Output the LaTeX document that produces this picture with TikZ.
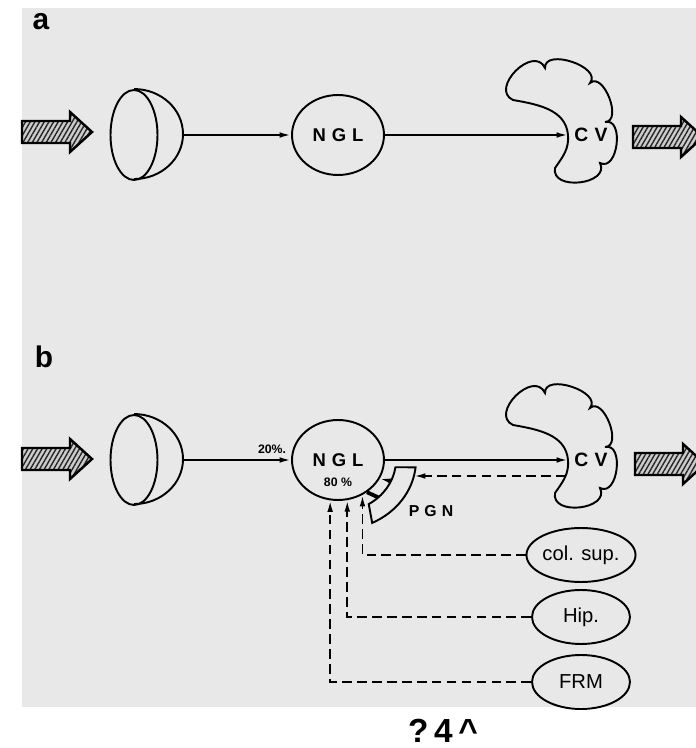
\documentclass[tikz,border=0pt]{standalone}
\usepackage{fontspec}
\setmainfont{Liberation Sans}
\newfontfamily\spaced[LetterSpace=32]{Liberation Sans}
\usetikzlibrary{shapes.geometric, arrows.meta, positioning, patterns.meta}

\begin{document}
\begin{tikzpicture}[
    x=0.02cm, y=0.02cm,
    line width=1.1pt,
    oval/.style={ellipse, draw, inner sep=0pt},
    lens/.style={oval, minimum width=0.94cm, minimum height=1.8cm},
    nucleus/.style={oval, minimum width=1.84cm, minimum height=1.6cm, font=\spaced\bfseries\fontsize{10.5}{12}\selectfont},
    source/.style={oval, minimum width=1.96cm, minimum height=1.08cm, font=\fontsize{11.5}{13}\selectfont},
    tag/.style={font=\spaced\bfseries\fontsize{11}{13}\selectfont, inner sep=0pt},
    pct/.style={font=\bfseries\fontsize{7}{8}\selectfont, inner sep=0pt},
    panel/.style={font=\bfseries\fontsize{17}{19}\selectfont, inner sep=0pt},
    arrow/.style={-{Latex[length=6.5pt,width=3.2pt]}, line width=1.1pt},
    fb/.style={arrow, dash pattern=on 5.5pt off 3pt},
    hatch/.style={draw, line width=1.4pt, preaction={fill=black!20}, pattern={Lines[angle=60,distance=2.3pt,line width=0.8pt]}, pattern color=black!85},
    fatarrow/.pic={\draw[hatch] (0,-11) -- (48,-11) -- (48,-20) -- (70,0) -- (48,20) -- (48,11) -- (0,11) -- cycle;},
    cloud/.pic={
        \draw (-13,-33) to[out=-100,in=-64,looseness=1.35] (32,-28)
            to[out=-27,in=13,looseness=1.25] (37,13)
            to[out=1,in=41,looseness=1.1] (22,52)
            to[out=52,in=92,looseness=1.1] (-23,67)
            to[out=115,in=155,looseness=1.5] (-55,35)
            to[out=-10,in=95] (0,0)
            to[out=-85,in=55] (-13,-33) -- cycle;
        \coordinate (-tip) at (0,0);
        \coordinate (-low) at (-2,-16);
    }
]
    \useasboundingbox (0,0) rectangle (696,748);
    \fill[black!9] (22,41) rectangle (696,740);

    % a
    \node[panel] (la) at (41,726) {a};
    \pic at (22,616) {fatarrow};
    \node[lens] (eyeA) at (134,613) {};
    \draw (eyeA.north) arc[start angle=90, end angle=-90, x radius=49, y radius=45];
    \coordinate (eyeAr) at ([xshift=0.98cm]eyeA.center);
    \node[nucleus] (nglA) at (338,613) {NGL};
    \pic (cvA) at (568,613) {cloud};
    \node[tag] (cvlA) at (591,613) {CV};
    \pic at (633,611) {fatarrow};

    \draw[arrow] (eyeAr) -- (nglA);
    \draw[arrow] (nglA) -- (cvA-tip);

    % b
    \node[panel] (lb) at (44,391) {b};
    \pic at (22,289) {fatarrow};
    \node[lens] (eyeB) at (134,288) {};
    \draw (eyeB.north) arc[start angle=90, end angle=-90, x radius=49, y radius=45];
    \coordinate (eyeBr) at ([xshift=0.98cm]eyeB.center);
    \node[nucleus] (nglB) at (338,288) {NGL};
    \node[pct, below=0.34cm of nglB.center] (p80) {80 \%};
    \node[pct, anchor=south east] (p20) at ([xshift=-0.08cm,yshift=0.1cm]nglB.west) {20\%.};
    \pic (cvB) at (568,288) {cloud};
    \node[tag] (cvlB) at (591,288) {CV};
    \pic at (635,284) {fatarrow};

    % PGN
    \path (nglB.center) ++(-58:58 and 52) coordinate (pgnIn);
    \path (nglB.center) ++(-13.2:78 and 70) coordinate (pgnHit);
    \draw (nglB.center) ++(-6:78 and 70) arc[start angle=-6, end angle=-64, x radius=78, y radius=70]
        -- (pgnIn) arc[start angle=-58, end angle=-8, x radius=58, y radius=52] -- cycle;
    \node[tag, font=\spaced\bfseries\fontsize{9}{10}\selectfont] (pgn) at (431,237) {PGN};
    \draw[arrow] (nglB.center) ++(-24:58 and 52) -- (nglB.-24);
    \draw[line width=2.2pt] (nglB.center) ++(-46:58 and 52) -- (nglB.-48);

    \node[source] (colsup) at (581,193) {col. sup.};
    \node[source] (hip) at (581,131) {Hip.};
    \node[source] (frm) at (581,66) {FRM};

    \draw[arrow] (eyeBr) -- (nglB);
    \draw[arrow] (nglB) -- (cvB-tip);
    \draw[fb] (cvB-low) -- (cvB-low -| pgnHit);
    \draw[fb] (colsup) -| (nglB.-55);
    \draw[fb] (hip) -| (nglB.-77);
    \draw[fb] (frm) -| (nglB.-101);

    \node[font=\bfseries\fontsize{19}{21}\selectfont, inner sep=0pt, anchor=base] (pageno) at (443,6) {?\,4\,\textasciicircum};
\end{tikzpicture}
\end{document}
